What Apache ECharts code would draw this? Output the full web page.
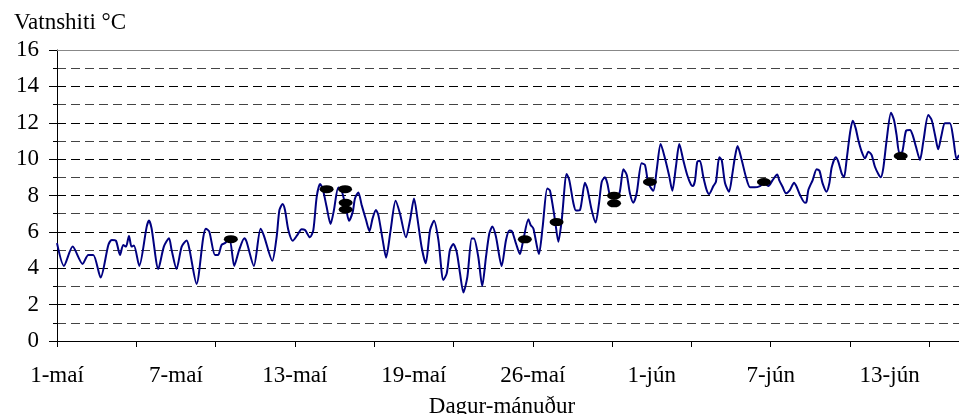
<!DOCTYPE html>
<html>
<head>
<meta charset="utf-8">
<script src="https://cdn.jsdelivr.net/npm/echarts@6/dist/echarts.min.js"></script>
<style>
html,body{margin:0;padding:0;background:#fff;}
#chart{width:959px;height:414px;}
</style>
</head>
<body>
<div id="chart"></div>
<script>
// x position in days after 1 May (label positions below)
const dayPos = [0,0.35,0.79,1.29,1.58,1.83,2.2,2.59,2.76,2.97,3.18,3.34,3.48,3.63,3.76,3.88,4.15,4.52,4.64,4.77,5.11,5.39,5.65,5.78,6.03,6.29,6.54,6.67,7.04,7.38,7.51,7.68,7.97,8.13,8.3,8.47,8.7,8.94,9.19,9.45,9.56,9.93,10.27,10.44,10.86,11.08,11.22,11.38,11.5,11.67,11.89,12.12,12.34,12.51,12.76,12.93,13.1,13.27,13.4,13.6,13.8,13.97,14.19,14.36,14.58,14.73,14.92,15.03,15.2,15.37,15.59,15.76,15.92,16.09,16.21,16.43,16.6,16.83,17.08,17.3,17.6,17.81,18.01,18.17,18.39,18.6,18.82,19.02,19.24,19.49,19.66,19.82,19.99,20.16,20.33,20.5,20.7,20.92,21.03,21.25,21.45,21.64,21.81,21.96,22.14,22.43,22.65,22.82,22.94,23.15,23.35,23.52,23.78,23.89,24.03,24.31,24.5,24.73,24.87,25.12,25.29,25.46,25.71,25.84,26.05,26.18,26.38,26.63,26.75,26.97,27.17,27.34,27.48,27.64,27.76,27.89,28.1,28.37,28.57,28.74,28.9,29.07,29.24,29.49,29.66,29.83,30.08,30.25,30.45,30.67,30.87,31.04,31.22,31.39,31.59,31.79,31.98,32.07,32.18,32.3,32.43,32.6,32.77,32.89,33.11,33.24,33.41,33.53,33.7,33.9,34.06,34.2,34.33,34.54,34.75,34.96,35.2,35.46,35.66,35.88,36.1,36.33,36.43,36.6,36.77,36.97,37.18,37.31,37.48,37.73,37.81,37.9,38.12,38.32,38.46,38.62,38.82,38.96,39.08,39.28,39.41,39.58,39.7,39.83,40.0,40.14,40.29,40.42,40.59,40.76,40.93,41.09,41.26,41.43,41.55,41.68,41.85,42.07,42.22,42.35,42.49,42.64,42.83,43.03,43.16,43.33,43.53,43.7,43.95,44.12,44.29,44.45,44.62,44.79,45.04,45.21,45.38,45.5];
const waterTemp = [5.38,4.13,5.19,4.24,4.73,4.73,3.49,5.28,5.56,5.52,4.73,5.28,5.19,5.78,5.19,5.25,4.13,6.26,6.62,6.2,3.96,5.19,5.65,5.01,3.96,5.19,5.52,5.1,3.14,5.71,6.17,6.02,4.73,4.73,5.28,5.38,5.6,4.13,5.01,5.65,5.47,4.13,6.17,5.78,4.41,5.73,7.2,7.53,7.2,6.1,5.51,5.82,6.15,6.1,5.7,6.1,7.93,8.63,8.39,7.38,6.43,7.2,8.44,8.26,7.29,6.61,7.11,7.84,8.17,7.47,6.65,6.04,6.74,7.2,6.92,5.55,4.58,6.1,7.71,7.01,5.7,6.65,7.84,6.83,5.18,4.27,6.1,6.61,5.55,3.35,3.72,5.0,5.33,4.91,3.72,2.67,3.53,5.64,5.64,4.63,3.02,4.63,5.92,6.29,5.74,4.12,5.55,6.07,6.05,5.37,4.78,5.55,6.69,6.38,6.19,4.78,6.29,8.39,8.26,6.65,5.46,6.65,9.18,8.85,7.57,7.17,7.2,8.7,8.39,7.2,6.51,7.57,8.76,9.0,8.67,8.03,7.84,8.12,9.44,9.13,8.12,7.6,8.12,9.77,9.68,8.67,8.26,9.4,10.83,10.04,9.13,8.26,9.58,10.83,9.95,9.13,8.6,8.52,8.8,9.86,9.91,9.03,8.3,8.08,8.52,8.76,10.1,9.95,8.67,8.21,9.13,10.13,10.72,9.95,9.03,8.45,8.45,8.52,8.67,8.52,8.85,9.16,8.85,8.48,8.12,8.3,8.7,8.48,8.03,7.6,7.66,8.3,8.85,9.44,9.36,8.67,8.21,8.67,9.55,10.1,9.86,9.22,9.0,9.95,11.42,12.11,11.69,11.05,10.41,10.04,10.41,10.23,9.58,9.18,9.0,9.49,11.05,12.55,12.15,11.33,10.35,10.41,11.56,11.6,11.33,10.68,9.95,10.96,12.42,12.15,11.33,10.54,11.33,11.97,11.97,11.14,9.99,10.23];
// measured points (black ellipses)
const sampleDay = [8.77,13.6,14.53,14.56,14.56,23.6,25.2,28.1,28.1,29.91,35.66,42.56];
const sampleTemp = [5.6,8.35,8.35,7.6,7.23,5.59,6.54,7.99,7.57,8.74,8.74,10.17];
// axis labels
const labelDays = [0,6,12,18,24,30,36,42];
const tickLabels = ['1-maí','7-maí','13-maí','19-maí','26-maí','1-jún','7-jún','13-jún'];
const tickDays = [0,4,8,12,16,20,24,28,32,36,40,44];

const FONT = 'Liberation Serif';
const FS = 23;
const chart = echarts.init(document.getElementById('chart'), null, {renderer:'canvas'});
chart.setOption({
  animation:false,
  backgroundColor:'#fff',
  title:[
    {text:'Vatnshiti °C', left:9, top:6, textStyle:{fontFamily:FONT, fontSize:FS, fontWeight:'normal', color:'#000'}},
    {text:'Dagur-mánuður', left:497, top:390, textAlign:'center', textStyle:{fontFamily:FONT, fontSize:FS, fontWeight:'normal', color:'#000'}}
  ],
  grid:{left:57, right:0, top:50, bottom:73, containLabel:false},
  xAxis:[{
    type:'value', min:0, max:45.5,
    axisLine:{show:true, lineStyle:{color:'#000', width:1}},
    axisTick:{show:true, length:6, lineStyle:{color:'#000'}, customValues:tickDays},
    axisLabel:{show:true, margin:23, fontFamily:FONT, fontSize:FS, color:'#000', customValues:labelDays,
      formatter:function(v){const i=labelDays.indexOf(v);return i>=0?tickLabels[i]:'';}},
    splitLine:{show:false}
  },{
    type:'value', min:0, max:45.5, position:'top',
    axisLine:{show:true, lineStyle:{color:'#888', width:1}},
    axisTick:{show:false}, axisLabel:{show:false}, splitLine:{show:false}
  }],
  yAxis:{
    type:'value', min:0, max:16, interval:2,
    axisLine:{show:true, lineStyle:{color:'#000', width:1}},
    axisTick:{show:true, length:8, lineStyle:{color:'#000'}},
    minorTick:{show:true, splitNumber:2, length:4, lineStyle:{color:'#000'}},
    axisLabel:{margin:18, fontFamily:FONT, fontSize:FS, color:'#000'},
    splitLine:{show:true, lineStyle:{color:'#000', type:[9,5], width:1}},
    minorSplitLine:{show:true, lineStyle:{color:'#444', type:[9,5], width:1}}
  },
  series:[{
    type:'line', xAxisIndex:0,
    data: dayPos.map((d,i)=>[d, waterTemp[i]]),
    showSymbol:false, smooth:0.25,
    lineStyle:{color:'#000080', width:2}, z:3
  },{
    type:'scatter', xAxisIndex:0,
    data: sampleDay.map((d,i)=>[d, sampleTemp[i]]),
    symbol:'circle', symbolSize:[14,8],
    itemStyle:{color:'#000', opacity:1}, z:5
  }]
});
</script>
</body>
</html>
